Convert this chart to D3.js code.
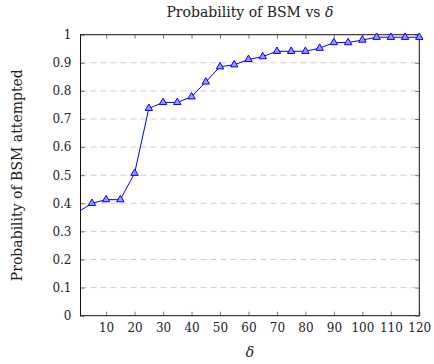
<!DOCTYPE html>
<html>
<head>
<meta charset="utf-8">
<script src="https://cdn.jsdelivr.net/npm/d3@7"></script>
<style>
  body { margin: 0; background: #fff; }
  svg text { font-family: "DejaVu Serif", "Liberation Serif", serif; fill: #222; }
</style>
</head>
<body>
<div id="chart"></div>
<script>
// delta values and probability that BSM was attempted
const deltas = [0, 5, 10, 15, 20, 25, 30, 35, 40, 45, 50, 55, 60, 65, 70, 75, 80, 85, 90, 95, 100, 105, 110, 115, 120];
const probs  = [0.368, 0.40, 0.413, 0.413, 0.507, 0.738, 0.759, 0.759, 0.779, 0.832, 0.886, 0.893, 0.912, 0.922, 0.941, 0.941, 0.941, 0.952, 0.972, 0.972, 0.981, 0.991, 0.991, 0.991, 0.991];
const xTicks = [10, 20, 30, 40, 50, 60, 70, 80, 90, 100, 110, 120];
const yTicks = [0, 0.1, 0.2, 0.3, 0.4, 0.5, 0.6, 0.7, 0.8, 0.9, 1];

const width = 434, height = 364;
const margin = { top: 34.7, right: 14.7, bottom: 48.3, left: 80.5 };
const iw = width - margin.left - margin.right;
const ih = height - margin.top - margin.bottom;
const tickFont = 12, labelFont = 14;

const x = d3.scaleLinear().domain([1, 120]).range([0, iw]);
const y = d3.scaleLinear().domain([0, 1]).range([ih, 0]);

const svg = d3.select("#chart").append("svg")
  .attr("width", width)
  .attr("height", height);

const g = svg.append("g")
  .attr("transform", `translate(${margin.left},${margin.top})`);

const defs = svg.append("defs");
defs.append("clipPath").attr("id", "plotclip")
  .append("rect").attr("x", -4).attr("y", -6).attr("width", iw + 8).attr("height", ih + 10);
defs.append("clipPath").attr("id", "lineclip")
  .append("rect").attr("x", 0).attr("y", -6).attr("width", iw + 8).attr("height", ih + 10);

// grid lines
g.append("g")
  .selectAll("line")
  .data(yTicks.filter(t => t > 0 && t < 1))
  .join("line")
  .attr("x1", 0).attr("x2", iw)
  .attr("y1", d => y(d)).attr("y2", d => y(d))
  .attr("stroke", "#c8c8c8")
  .attr("stroke-width", 0.9)
  .attr("stroke-dasharray", "6,4");

// axes: labels and inward ticks
const xAxis = d3.axisBottom(x).tickValues(xTicks).tickSize(-4).tickPadding(8).tickFormat(d3.format("d"));
const yAxis = d3.axisLeft(y).tickValues(yTicks).tickSize(-4).tickPadding(9).tickFormat(d => d === 0 || d === 1 ? d : d3.format(".1f")(d));

const gx = g.append("g").attr("transform", `translate(0,${ih})`).call(xAxis);
const gy = g.append("g").call(yAxis);
const gxTop = g.append("g").call(d3.axisTop(x).tickValues(xTicks).tickSize(-4).tickFormat(""));
const gyRight = g.append("g").attr("transform", `translate(${iw},0)`).call(d3.axisRight(y).tickValues(yTicks).tickSize(-4).tickFormat(""));

[gx, gy, gxTop, gyRight].forEach(a => {
  a.select(".domain").remove();
  a.selectAll(".tick line").attr("stroke", "#555").attr("stroke-width", 0.8);
  a.selectAll("text").attr("font-size", tickFont).attr("font-family", "DejaVu Serif, serif").attr("fill", "#222");
});

// frame
g.append("rect")
  .attr("width", iw).attr("height", ih)
  .attr("fill", "none").attr("stroke", "#111").attr("stroke-width", 1);

// data line
const line = d3.line().x((d, i) => x(deltas[i])).y(d => y(d));
g.append("path")
  .datum(probs)
  .attr("clip-path", "url(#lineclip)")
  .attr("d", line)
  .attr("fill", "none")
  .attr("stroke", "#0000ff")
  .attr("stroke-width", 1);

// triangle markers
const tri = d3.symbol().type(d3.symbolTriangle).size(24);
g.append("g")
  .attr("clip-path", "url(#plotclip)")
  .selectAll("path")
  .data(probs.map((p, i) => [deltas[i], p]).filter(d => d[0] >= 1))
  .join("path")
  .attr("d", tri)
  .attr("transform", d => `translate(${x(d[0])},${y(d[1])})`)
  .attr("fill", "#9a9aff")
  .attr("stroke", "#0000ff")
  .attr("stroke-width", 1);

// title and axis labels
svg.append("text")
  .attr("x", margin.left + iw / 2).attr("y", 17)
  .attr("text-anchor", "middle").attr("font-size", labelFont)
  .html('Probability of BSM vs <tspan font-style="italic">δ</tspan>');

svg.append("text")
  .attr("x", margin.left + iw / 2).attr("y", 357)
  .attr("text-anchor", "middle").attr("font-size", labelFont).attr("font-style", "italic")
  .text("δ");

svg.append("text")
  .attr("transform", `translate(22,${margin.top + ih / 2}) rotate(-90)`)
  .attr("text-anchor", "middle").attr("font-size", labelFont)
  .text("Probability of BSM attempted");
</script>
</body>
</html>
